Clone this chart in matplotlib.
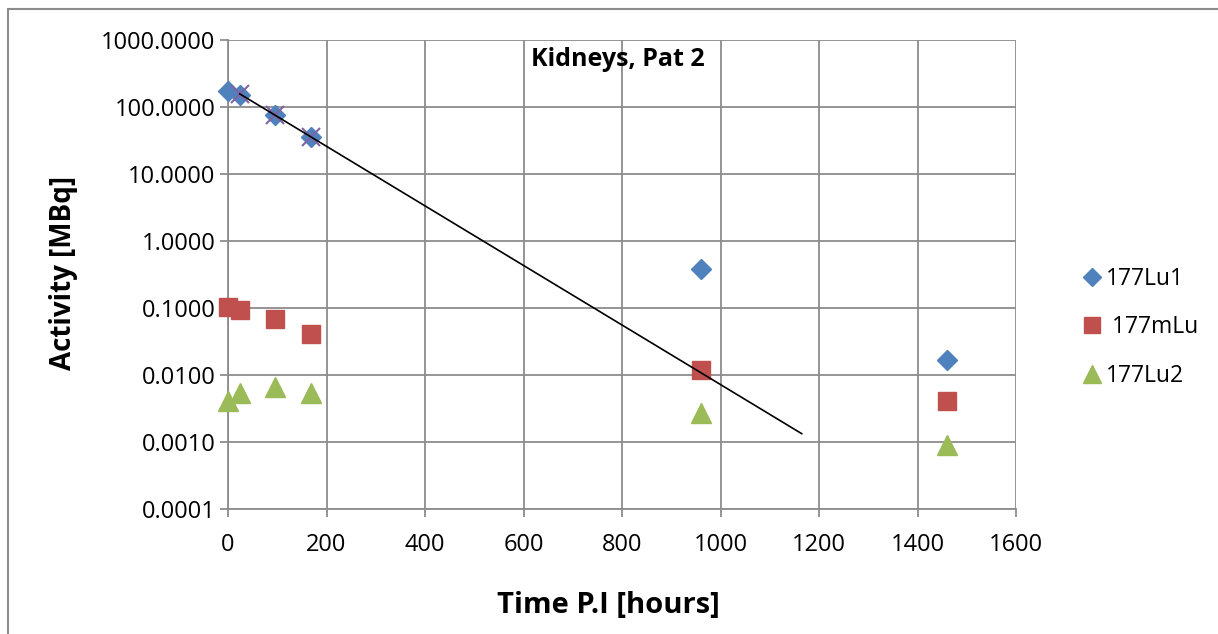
import numpy as np
import matplotlib
matplotlib.use("Agg")
import matplotlib.pyplot as plt
from matplotlib.patches import Rectangle
from matplotlib.ticker import FixedLocator, FixedFormatter

# dados
time_lu1 = [0, 24, 96, 168, 960, 1460]
act_lu1 = [173, 150, 77, 35.5, 0.38, 0.0165]

time_mlu = [0, 24, 96, 168, 960, 1460]
act_mlu = [0.103, 0.094, 0.0686, 0.041, 0.0119, 0.0041]

time_lu2 = [0, 24, 96, 168, 960, 1460]
act_lu2 = [0.0041, 0.0054, 0.0066, 0.0054, 0.0027, 0.00091]

# pontos usados no ajuste exponencial (marcados com x)
time_fit = [24, 96, 168]
act_fit = [155, 77, 35.5]
fit_end = 1165

y_ticks = [1e3, 1e2, 1e1, 1, 0.1, 0.01, 0.001, 0.0001]
y_labels = ["1000.0000", "100.0000", "10.0000", "1.0000", "0.1000", "0.0100", "0.0010", "0.0001"]
x_ticks = [0, 200, 400, 600, 800, 1000, 1200, 1400, 1600]

plt.rcParams['font.family'] = ['Open Sans', 'DejaVu Sans']

fig = plt.figure(figsize=(12.18, 6.34), dpi=100)
ax = fig.add_axes([228 / 1218, 1 - 509 / 634, 788 / 1218, 469 / 634])

grid_col = '#8c8c8c'
ax.set_yscale('log')
ax.set_xlim(0, 1600)
ax.set_ylim(1e-4, 1e3)
ax.yaxis.set_major_locator(FixedLocator(y_ticks))
ax.yaxis.set_major_formatter(FixedFormatter(y_labels))
ax.yaxis.set_minor_locator(FixedLocator([]))
ax.set_xticks(x_ticks)
ax.grid(True, color=grid_col, linewidth=1.3)
ax.set_axisbelow(True)
for s in ['top', 'right']:
    ax.spines[s].set_visible(False)
for s in ['left', 'bottom']:
    ax.spines[s].set_color(grid_col)
    ax.spines[s].set_linewidth(1.3)
ax.tick_params(axis='both', color=grid_col, width=1.3, length=6, labelsize=17)
ax.tick_params(axis='x', pad=11)
ax.tick_params(axis='y', pad=3)

# linha de tendência exponencial
coef = np.polyfit(time_fit, np.log10(act_fit), 1)
t_line = np.array([time_fit[0], fit_end])
ax.plot(t_line, 10 ** np.polyval(coef, t_line), color='black', linewidth=1.2, zorder=4)

ax.plot(time_lu1, act_lu1, 'D', color='#4F81BD', markersize=10, label='177Lu1', zorder=3, clip_on=False)
ax.plot(time_mlu, act_mlu, 's', color='#C0504D', markersize=13, label=' 177mLu', zorder=3, clip_on=False)
ax.plot(time_lu2, act_lu2, '^', color='#9BBB59', markersize=14, label='177Lu2', zorder=3, clip_on=False)
ax.plot(time_fit, act_fit, 'x', color='#8064A2', markersize=13, markeredgewidth=1.5, zorder=3, clip_on=False)

ax.text(0.495, 0.985, "Kidneys, Pat 2", transform=ax.transAxes, ha='center', va='top',
        fontsize=18, fontweight='bold')

fig.text(63 / 1218, 1 - 273 / 634, "Activity [MBq]", rotation=90, ha='center', va='center',
         fontsize=20, fontweight='bold')
fig.text(608 / 1218, 1 - 606 / 634, "Time P.I [hours]", ha='center', va='center',
         fontsize=21, fontweight='bold')

leg = fig.legend(loc='upper left', bbox_to_anchor=(1059 / 1218, 1 - 246 / 634), frameon=False,
                 fontsize=16.5, handletextpad=0.05, labelspacing=1.08, handlelength=1.1,
                 markerscale=0.9)

# moldura da área do gráfico
fig.patches.append(Rectangle((8 / 1218, -0.1), 1.2, 1 - 9 / 634 + 0.1, transform=fig.transFigure,
                             fill=False, edgecolor='#8c8c8c', linewidth=1.5))

fig.savefig('out.png', dpi=100)
